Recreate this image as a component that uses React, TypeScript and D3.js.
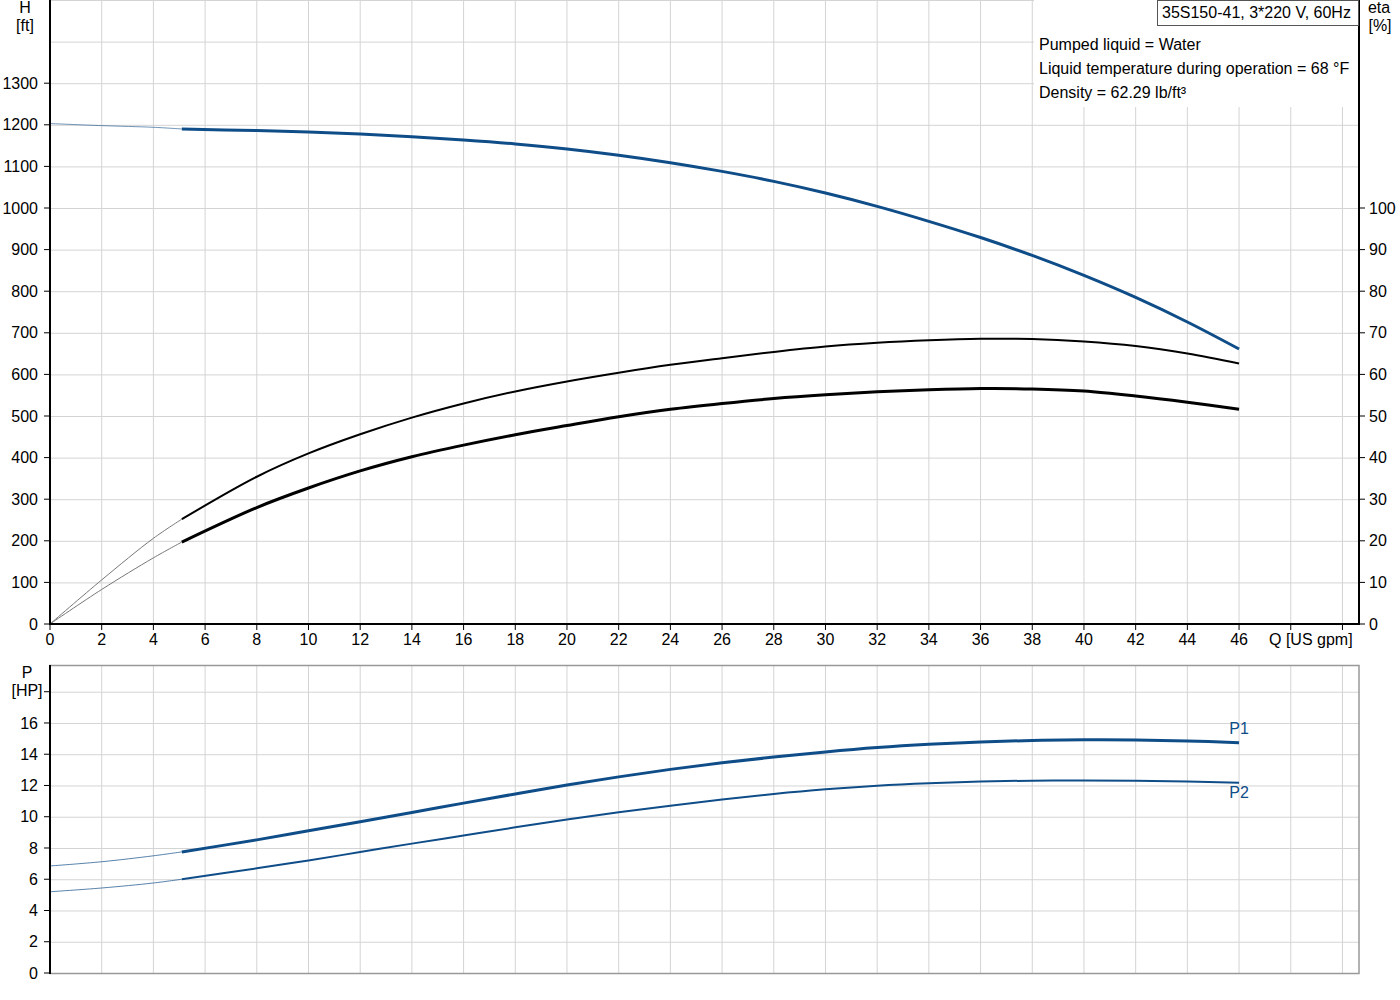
import React, { useEffect, useRef } from 'react';
import * as d3 from 'd3';

// flow points (US gpm)
const flowStart = [0, 2, 4, 5.1];
const flowMain = [5.1, 8, 10, 12, 14, 16, 18, 20, 22, 24, 26, 28, 30, 32, 34, 36, 38, 40, 42, 44, 46];

// head [ft]
const headStart = [1203, 1198, 1194, 1190];
const headMain = [1190, 1186, 1182.5, 1178, 1171.5, 1163.5, 1154, 1142, 1127, 1109, 1088, 1064, 1036, 1004, 968, 929, 886, 838, 785, 726, 661];

// efficiency [%]
const etaPumpStart = [0, 10.6, 20.6, 25.2];
const etaPumpMain = [25.2, 35.4, 41.0, 45.6, 49.6, 53.0, 55.9, 58.3, 60.4, 62.3, 63.9, 65.4, 66.7, 67.6, 68.2, 68.55, 68.5, 67.9, 66.8, 65.0, 62.6];
const etaTotalStart = [0, 8.3, 15.9, 19.7];
const etaTotalMain = [19.7, 28.0, 32.7, 36.8, 40.2, 43.0, 45.5, 47.7, 49.8, 51.6, 53.0, 54.2, 55.1, 55.8, 56.3, 56.6, 56.5, 56.0, 54.8, 53.3, 51.6];

// power [HP]
const p1Start = [6.85, 7.12, 7.5, 7.75];
const p1Main = [7.75, 8.52, 9.1, 9.68, 10.27, 10.87, 11.46, 12.03, 12.55, 13.03, 13.45, 13.82, 14.15, 14.43, 14.64, 14.79, 14.88, 14.92, 14.91, 14.85, 14.74];
const p2Start = [5.2, 5.44, 5.76, 6.0];
const p2Main = [6.0, 6.7, 7.2, 7.74, 8.28, 8.8, 9.32, 9.82, 10.28, 10.7, 11.1, 11.46, 11.76, 11.99, 12.15, 12.26, 12.31, 12.32, 12.3, 12.25, 12.18];

const qTicks = d3.range(0, 51, 2);
const hTicks = d3.range(0, 1301, 100);
const etaTicks = d3.range(0, 101, 10);
const pTicks = d3.range(0, 17, 2);

const infoLines = [
  'Pumped liquid = Water',
  'Liquid temperature during operation = 68 °F',
  'Density = 62.29 lb/ft³',
];

const BLUE = '#0f4d89';
const GRID = '#d4d4d4';
const FONT = '"Liberation Sans", Arial, sans-serif';

const App = () => {
  const svgRef = useRef(null);

  useEffect(() => {
    const svg = d3.select(svgRef.current);
    svg.selectAll('*').remove();

    const left = 50;
    const right = 1359;
    const topA = 0;
    const bottomA = 624;
    const topB = 665;
    const bottomB = 973;

    const x = d3.scaleLinear().domain([0, 50.64]).range([left, right]);
    const yH = d3.scaleLinear().domain([0, 1500]).range([bottomA, topA]);
    const yEta = d3.scaleLinear().domain([0, 150]).range([bottomA, topA]);
    const yP = d3.scaleLinear().domain([0, 19.71]).range([bottomB, topB]);

    svg.attr('width', 1400).attr('height', 1000).style('font-family', FONT);

    // ---------- top chart grid ----------
    const gA = svg.append('g');
    gA.selectAll('.vg')
      .data(qTicks.filter((d) => d > 0))
      .enter()
      .append('line')
      .attr('x1', (d) => x(d))
      .attr('x2', (d) => x(d))
      .attr('y1', topA)
      .attr('y2', bottomA)
      .attr('stroke', GRID);
    gA.selectAll('.hg')
      .data(d3.range(100, 1501, 100))
      .enter()
      .append('line')
      .attr('x1', left)
      .attr('x2', right)
      .attr('y1', (d) => yH(d) + 0.5)
      .attr('y2', (d) => yH(d) + 0.5)
      .attr('stroke', GRID);

    // info box covers grid
    gA.append('rect')
      .attr('x', 1034)
      .attr('y', 0)
      .attr('width', right - 1034)
      .attr('height', 107)
      .attr('fill', 'white');

    const line = (ys) =>
      d3
        .line()
        .x((d) => x(d[0]))
        .y((d) => ys(d[1]))
        .curve(d3.curveCatmullRom.alpha(0.5));

    const drawCurve = (g, qs, vs, ys, color, width, opacity = 1) => {
      g.append('path')
        .datum(qs.map((q, i) => [q, vs[i]]))
        .attr('d', line(ys))
        .attr('fill', 'none')
        .attr('stroke', color)
        .attr('stroke-width', width)
        .attr('stroke-opacity', opacity);
    };

    drawCurve(gA, flowStart, headStart, yH, BLUE, 1, 0.6);
    drawCurve(gA, flowStart, etaPumpStart, yEta, '#777', 1);
    drawCurve(gA, flowStart, etaTotalStart, yEta, '#777', 1);
    drawCurve(gA, flowMain, headMain, yH, BLUE, 3);
    drawCurve(gA, flowMain, etaPumpMain, yEta, '#000', 2);
    drawCurve(gA, flowMain, etaTotalMain, yEta, '#000', 3);

    // axes
    const axA = svg.append('g').attr('font-size', 16);
    axA.append('line').attr('x1', left).attr('x2', left).attr('y1', 0).attr('y2', bottomA + 1).attr('stroke', '#000').attr('stroke-width', 2);
    axA.append('line').attr('x1', right).attr('x2', right).attr('y1', 0).attr('y2', bottomA + 1).attr('stroke', '#000').attr('stroke-width', 2);
    axA.append('line').attr('x1', left).attr('x2', right).attr('y1', bottomA).attr('y2', bottomA).attr('stroke', '#000').attr('stroke-width', 2);

    hTicks.forEach((d) => {
      axA.append('line').attr('x1', left - 6).attr('x2', left).attr('y1', yH(d)).attr('y2', yH(d)).attr('stroke', '#000');
      axA.append('text').attr('x', 38).attr('y', yH(d)).attr('dy', '0.35em').attr('text-anchor', 'end').text(d);
    });
    etaTicks.forEach((d) => {
      axA.append('line').attr('x1', right).attr('x2', right + 6).attr('y1', yEta(d)).attr('y2', yEta(d)).attr('stroke', '#000');
      axA.append('text').attr('x', 1369).attr('y', yEta(d)).attr('dy', '0.35em').attr('text-anchor', 'start').text(d);
    });
    qTicks.forEach((d) => {
      axA.append('line').attr('x1', x(d)).attr('x2', x(d)).attr('y1', bottomA).attr('y2', bottomA + 6).attr('stroke', '#000');
      if (d <= 46) {
        axA.append('text').attr('x', x(d)).attr('y', 645).attr('text-anchor', 'middle').text(d);
      }
    });
    axA.append('text').attr('x', 1269).attr('y', 645).text('Q [US gpm]');
    axA.append('text').attr('x', 25).attr('y', 13).attr('text-anchor', 'middle').text('H');
    axA.append('text').attr('x', 25).attr('y', 31).attr('text-anchor', 'middle').text('[ft]');
    axA.append('text').attr('x', 1379).attr('y', 13).attr('text-anchor', 'middle').text('eta');
    axA.append('text').attr('x', 1380).attr('y', 31).attr('text-anchor', 'middle').text('[%]');

    // title box + info text
    axA.append('rect').attr('x', 1157.5).attr('y', 0.5).attr('width', right - 1158).attr('height', 25).attr('fill', 'white').attr('stroke', '#555');
    axA.append('text').attr('x', 1162).attr('y', 18).text('35S150-41, 3*220 V, 60Hz');
    infoLines.forEach((t, i) => {
      axA.append('text').attr('x', 1039).attr('y', 50 + i * 24).text(t);
    });

    // ---------- bottom chart ----------
    const gB = svg.append('g');
    gB.selectAll('.vg')
      .data(qTicks.filter((d) => d > 0))
      .enter()
      .append('line')
      .attr('x1', (d) => x(d))
      .attr('x2', (d) => x(d))
      .attr('y1', topB)
      .attr('y2', bottomB)
      .attr('stroke', GRID);
    gB.selectAll('.hg')
      .data(d3.range(2, 19, 2))
      .enter()
      .append('line')
      .attr('x1', left)
      .attr('x2', right)
      .attr('y1', (d) => yP(d) + 0.5)
      .attr('y2', (d) => yP(d) + 0.5)
      .attr('stroke', GRID);
    gB.append('rect')
      .attr('x', left)
      .attr('y', topB + 0.5)
      .attr('width', right - left)
      .attr('height', bottomB - topB)
      .attr('fill', 'none')
      .attr('stroke', '#999')
      .attr('stroke-width', 1.5);

    drawCurve(gB, flowStart, p1Start, yP, BLUE, 1, 0.7);
    drawCurve(gB, flowStart, p2Start, yP, BLUE, 1, 0.7);
    drawCurve(gB, flowMain, p1Main, yP, BLUE, 3);
    drawCurve(gB, flowMain, p2Main, yP, BLUE, 2);

    const axB = svg.append('g').attr('font-size', 16);
    axB.append('line').attr('x1', left).attr('x2', left).attr('y1', topB).attr('y2', bottomB + 1).attr('stroke', '#000').attr('stroke-width', 2);
    pTicks.concat([18]).forEach((d) => {
      axB.append('line').attr('x1', left - 6).attr('x2', left).attr('y1', yP(d)).attr('y2', yP(d)).attr('stroke', '#000');
    });
    pTicks.forEach((d) => {
      axB.append('text').attr('x', 38).attr('y', yP(d)).attr('dy', '0.35em').attr('text-anchor', 'end').text(d);
    });
    axB.append('text').attr('x', 27).attr('y', 678).attr('text-anchor', 'middle').text('P');
    axB.append('text').attr('x', 27).attr('y', 696).attr('text-anchor', 'middle').text('[HP]');

    axB.append('text').attr('x', x(46)).attr('y', yP(p1Main[p1Main.length - 1]) - 9).attr('text-anchor', 'middle').attr('fill', BLUE).text('P1');
    axB.append('text').attr('x', x(46)).attr('y', yP(p2Main[p2Main.length - 1]) + 15).attr('text-anchor', 'middle').attr('fill', BLUE).text('P2');
  }, []);

  return (
    <div style={{ position: 'absolute', left: 0, top: 0, background: 'white' }}>
      <svg ref={svgRef}></svg>
    </div>
  );
};

export default App;
